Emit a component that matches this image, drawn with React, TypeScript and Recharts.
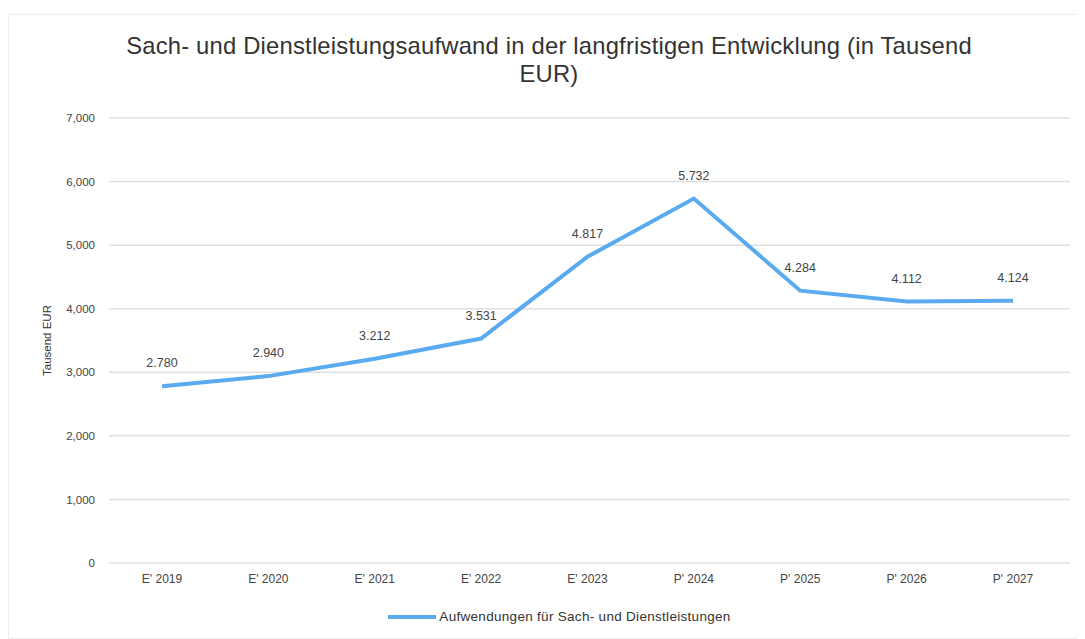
import React from "react";
import { LineChart, Line, XAxis, YAxis, CartesianGrid, Legend, LabelList } from "recharts";

const categories = ["E' 2019", "E' 2020", "E' 2021", "E' 2022", "E' 2023", "P' 2024", "P' 2025", "P' 2026", "P' 2027"];
const values = [2780, 2940, 3212, 3531, 4817, 5732, 4284, 4112, 4124];
const yTicks = [0, 1000, 2000, 3000, 4000, 5000, 6000, 7000];
const seriesName = "Aufwendungen für Sach- und Dienstleistungen";
const titleLines = ["Sach- und Dienstleistungsaufwand in der langfristigen Entwicklung (in Tausend", "EUR)"];

const data = categories.map((c, i) => ({ name: c, value: values[i] }));

const fmt = (v: number) => v.toLocaleString("de-DE");
const fmtAxis = (v: number) => v.toLocaleString("en-US");

const FONT = "'Liberation Sans', Arial, sans-serif";
const LINE_COLOR = "#5aaaf0";

const LegendContent = () => (
  <div style={{ display: "flex", justifyContent: "center", alignItems: "center", fontFamily: FONT, fontSize: 13.5, color: "#333", paddingLeft: 0 }}>
    <svg width={48} height={6} style={{ marginRight: 3 }}>
      <line x1={0} y1={3} x2={48} y2={3} stroke={LINE_COLOR} strokeWidth={4} />
    </svg>
    <span style={{ letterSpacing: 0.3 }}>{seriesName}</span>
  </div>
);

export default function App() {
  return (
    <div style={{ position: "relative", width: 1077, height: 631, fontFamily: FONT }}>
      <div style={{ position: "absolute", left: 0, top: 6, width: 1077, height: 625, border: "1px solid #ececec", boxSizing: "border-box" }} />
      <div style={{ position: "absolute", left: 0, top: 24, width: 1082, textAlign: "center", fontSize: 23.8, color: "#333", lineHeight: "28px", letterSpacing: 0.2 }}>
        {titleLines.map((t, i) => (
          <div key={i}>{t}</div>
        ))}
      </div>
      <LineChart width={1077} height={631} data={data} margin={{ top: 110, right: 15, left: 41, bottom: 12 }}>
        <CartesianGrid vertical={false} stroke="#e0e0e0" strokeWidth={1.5} />
        <XAxis
          dataKey="name"
          axisLine={false}
          tickLine={false}
          padding={{ left: 53, right: 57 }}
          tick={{ fontSize: 12, fill: "#444", fontFamily: FONT }}
          tickMargin={5}
          height={34}
        />
        <YAxis
          width={60}
          domain={[0, 7000]}
          ticks={yTicks}
          tickFormatter={fmtAxis}
          axisLine={false}
          tickLine={false}
          tick={{ fontSize: 11.5, fill: "#444", fontFamily: FONT }}
          tickMargin={8}
          label={{ value: "Tausend EUR", angle: -90, position: "insideLeft", offset: -2, style: { fontSize: 11.5, fill: "#333", fontFamily: FONT, textAnchor: "middle" } }}
        />
        <Legend verticalAlign="bottom" height={30} content={<LegendContent />} wrapperStyle={{ bottom: 0 }} />
        <Line
          type="linear"
          dataKey="value"
          name={seriesName}
          stroke={LINE_COLOR}
          strokeWidth={4}
          dot={false}
          activeDot={false}
          isAnimationActive={false}
        >
          <LabelList dataKey="value" position="top" offset={19} formatter={(v: number) => fmt(v)} style={{ fontSize: 12.5, fill: "#444", fontFamily: FONT }} />
        </Line>
      </LineChart>
    </div>
  );
}
